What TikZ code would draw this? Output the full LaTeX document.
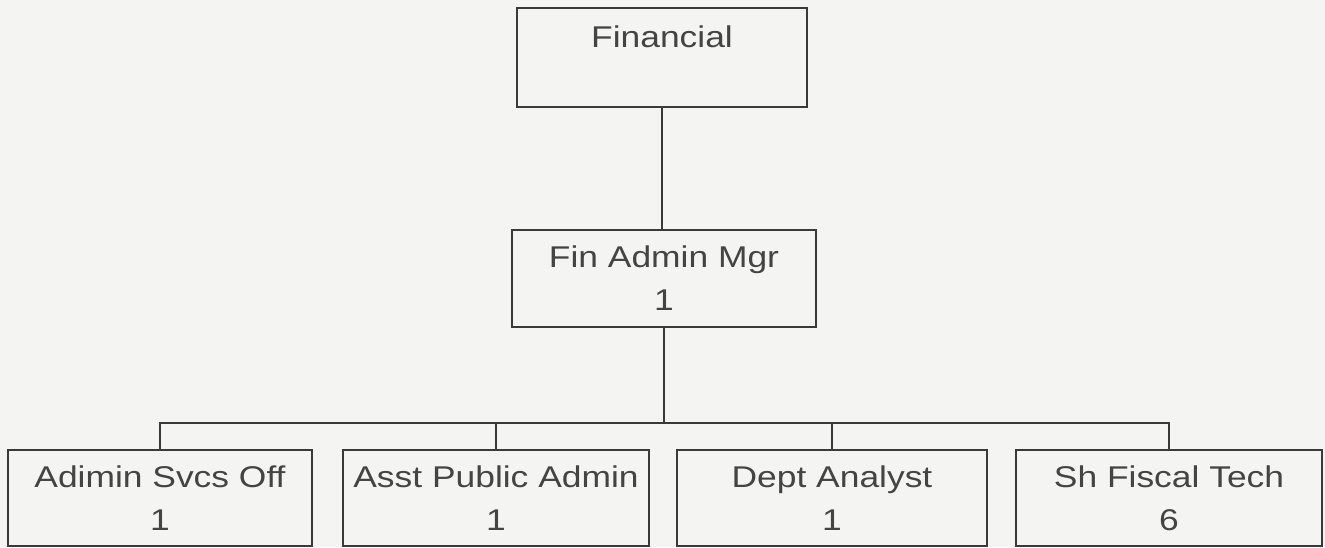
\documentclass[tikz,border=0pt]{standalone}
\usepackage{fontspec}
\setmainfont{Liberation Sans}[FakeStretch=1.18]
\definecolor{paper}{HTML}{F4F4F2}
\definecolor{ink}{HTML}{3A3A3A}
\definecolor{txt}{HTML}{444444}
\begin{document}
\begin{tikzpicture}[x=1pt,y=-1pt,
  orgbox/.style={draw=ink, line width=1.5pt, inner sep=0pt, align=center,
    text=txt, font=\fontsize{30}{43}\selectfont},
  unitbox/.style={orgbox, minimum height=96pt},
  wire/.style={draw=ink, line width=1.5pt}]
  % page
  \fill[paper] (0,0) rectangle (1325,547);
  \useasboundingbox (0,0) rectangle (1325,547);

  % top unit: label sits at the top of a tall box
  \node[orgbox, minimum width=290pt, text height=39pt, text depth=60pt,
        anchor=base] (fin) at (662,47) {Financial};

  % manager
  \node[orgbox, minimum width=304pt, minimum height=97pt] (mgr) at (664,278.5)
    {Fin Admin Mgr\\1};

  % staff row
  \node[unitbox, minimum width=304pt] (aso) at (160,498) {Adimin Svcs Off\\1};
  \node[unitbox, minimum width=306pt] (apa) at (496,498) {Asst Public Admin\\1};
  \node[unitbox, minimum width=310pt] (da)  at (832,498) {Dept Analyst\\1};
  \node[unitbox, minimum width=306pt] (sft) at (1169,498) {Sh Fiscal Tech\\6};

  % connectors
  \coordinate (bus) at (0,423);
  \draw[wire] (fin.south) -- (fin.south |- mgr.north);
  \foreach \c in {aso,apa,da,sft}
    \draw[wire] (mgr.south) -- (mgr.south |- bus) -| (\c.north);
\end{tikzpicture}
\end{document}
